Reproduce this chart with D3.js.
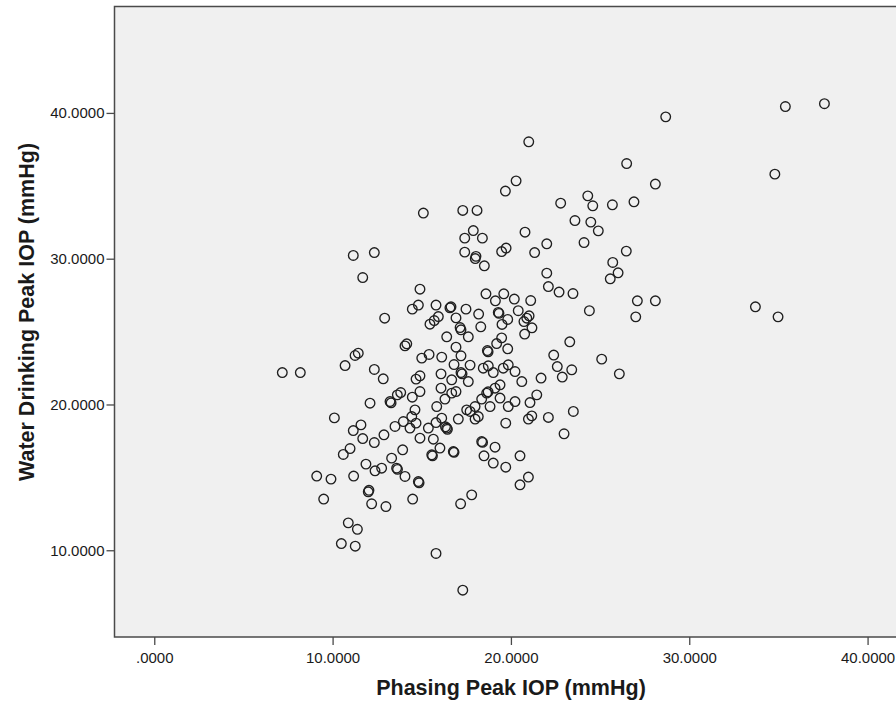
<!DOCTYPE html>
<html>
<head>
<meta charset="utf-8">
<script src="https://cdn.jsdelivr.net/npm/d3@7"></script>
<style>
	body { margin: 0; background: #fff; }
	.chart text { font-family: 'Liberation Sans', Arial, sans-serif; fill: #1a1a1a; }
</style>
</head>
<body>
<svg class="chart" width="896" height="726"></svg>
<script>
/** DATA **/
// Phasing Peak IOP (x) and Water Drinking Peak IOP (y), mmHg
let phasingPeak = [
	11.16, 12.34, 11.69, 11.44, 11.26, 19.69, 15.09, 17.30, 18.10, 17.89,
	17.41, 18.40, 20.79, 19.48, 19.73, 21.33, 17.41, 18.00, 18.04, 18.51,
	14.90, 12.92, 14.81, 14.47, 15.80, 16.58, 16.64, 17.48, 16.92, 15.93,
	15.70, 15.46, 17.15, 17.20, 16.40, 17.61, 18.19, 18.31, 18.60, 19.13,
	19.60, 20.19, 21.11, 19.29, 19.33, 19.82, 19.50, 20.41, 20.89, 21.02,
	20.73, 21.18, 20.77, 14.16, 14.06, 16.92, 19.48, 19.20, 19.82, 18.68,
	18.72, 15.41, 16.12, 17.20, 15.00, 7.18, 8.19, 10.70, 12.34, 12.10,
	10.10, 11.59, 11.16, 11.69, 12.34, 10.98, 10.60, 11.87, 12.38, 9.11,
	9.91, 11.18, 12.00, 12.04, 12.19, 9.50, 10.88, 11.39, 10.49, 11.27,
	15.80, 17.30, 12.84, 13.22, 13.28, 13.63, 13.82, 14.47, 14.68, 14.90,
	14.90, 16.08, 16.08, 16.68, 16.81, 17.20, 17.26, 17.61, 17.71, 16.68,
	16.92, 16.30, 15.84, 14.62, 14.44, 13.97, 14.68, 13.50, 14.34, 12.88,
	15.37, 16.12, 15.80, 16.40, 16.44, 16.33, 17.05, 17.52, 17.99, 17.71,
	18.17, 17.99, 14.90, 15.65, 16.02, 15.56, 15.60, 16.77, 16.81, 13.93,
	13.31, 12.75, 13.59, 13.64, 14.06, 14.81, 14.85, 14.49, 12.99, 17.18,
	17.80, 18.36, 18.41, 19.11, 18.49, 19.01, 19.71, 20.51, 20.98, 20.51,
	19.71, 18.64, 18.72, 18.36, 19.11, 19.39, 19.39, 18.83, 19.85, 20.23,
	21.07, 21.17, 20.98, 21.45, 20.61, 20.23, 19.85, 19.57, 19.01, 18.45,
	18.73, 21.69, 28.68, 35.39, 37.58, 26.49, 34.80, 28.10, 22.79, 24.31,
	24.59, 25.69, 26.90, 23.59, 24.48, 24.90, 22.01, 24.10, 26.47, 25.71,
	26.01, 25.57, 22.01, 22.10, 22.70, 23.48, 24.40, 27.09, 28.10, 27.00,
	33.71, 34.98, 23.30, 22.40, 25.09, 22.60, 23.41, 22.88, 26.08, 22.10,
	23.50, 22.98, 21.00, 20.29
];

let waterPeak = [
	30.22, 30.42, 28.71, 23.52, 23.36, 34.64, 33.13, 33.31, 33.31, 31.93,
	31.41, 31.41, 31.82, 30.49, 30.73, 30.42, 30.45, 30.01, 30.16, 29.51,
	27.91, 25.92, 26.82, 26.54, 26.82, 26.63, 26.70, 26.54, 25.94, 26.03,
	25.76, 25.51, 25.28, 25.12, 24.64, 24.64, 26.20, 25.33, 27.59, 27.11,
	27.59, 27.23, 27.13, 26.31, 26.25, 25.83, 25.49, 26.43, 25.92, 26.08,
	25.69, 25.26, 24.83, 24.16, 24.02, 23.93, 24.57, 24.18, 23.82, 23.70,
	23.61, 23.43, 23.25, 23.34, 23.18, 22.19, 22.19, 22.67, 22.40, 20.09,
	19.08, 18.60, 18.21, 17.66, 17.39, 16.98, 16.57, 15.91, 15.45, 15.09,
	14.88, 15.09, 14.01, 14.11, 13.19, 13.51, 11.88, 11.44, 10.46, 10.28,
	9.78, 7.26, 21.76, 20.20, 20.11, 20.66, 20.82, 20.50, 21.74, 21.97,
	20.89, 22.10, 21.12, 21.69, 22.74, 22.19, 22.10, 21.57, 22.70, 20.78,
	20.89, 20.37, 19.86, 19.63, 19.17, 18.83, 18.72, 18.49, 18.38, 17.92,
	18.38, 19.06, 18.76, 18.38, 18.30, 18.47, 19.00, 19.63, 19.86, 19.52,
	19.17, 19.00, 17.69, 17.62, 17.01, 16.55, 16.48, 16.77, 16.72, 16.89,
	16.32, 15.63, 15.63, 15.55, 15.06, 14.71, 14.63, 13.51, 13.00, 13.19,
	13.80, 17.46, 17.40, 17.07, 16.48, 15.98, 15.70, 16.48, 15.02, 14.49,
	18.72, 20.78, 20.87, 20.37, 21.12, 21.35, 20.44, 19.86, 19.86, 20.20,
	20.13, 19.22, 19.00, 20.66, 21.57, 22.26, 22.72, 22.49, 22.19, 22.49,
	22.65, 21.81, 39.73, 40.44, 40.63, 36.53, 35.80, 35.12, 33.81, 34.31,
	33.63, 33.70, 33.90, 32.62, 32.51, 31.91, 31.02, 31.11, 30.52, 29.74,
	29.03, 28.62, 29.01, 28.09, 27.71, 27.61, 26.43, 27.11, 27.11, 26.01,
	26.70, 26.01, 24.30, 23.39, 23.11, 22.60, 22.38, 21.88, 22.10, 19.11,
	19.52, 17.99, 38.02, 35.34
];

let xTicks = [0, 10, 20, 30, 40];
let yTicks = [10, 20, 30, 40];
let xTitle = 'Phasing Peak IOP (mmHg)';
let yTitle = 'Water Drinking Peak IOP (mmHg)';

/** CONSTANTS **/
let margin = {
	top: 6.5,
	right: -1,
	bottom: 89,
	left: 114.5
};

let constant = {
	width: 896 - margin.left - margin.right,
	height: 726 - margin.top - margin.bottom
};
constant.x = d3.scaleLinear().domain([-2.23, 41.65]).range([0, constant.width]);
constant.y = d3.scaleLinear().domain([4.05, 47.3]).range([constant.height, 0]);

// SPSS style labels: 0 shows as .0000
function tickText(d) {
	return d === 0 ? '.0000' : d.toFixed(4);
}

function createChart() {
	let svg = d3.select('.chart');
	let g = svg.append('g').attr('transform', 'translate(' + margin.left + ',' + margin.top + ')');

	createFrame(g);
	createScale(g);
	createPoints(g);
	createTitles(svg);
}

// gray plot background with dark border
function createFrame(g) {
	g.append('rect')
		.attr('class', 'frame')
		.attr('width', constant.width)
		.attr('height', constant.height)
		.style('fill', '#f0f0f0')
		.style('stroke', '#4a4a4a')
		.style('stroke-width', 1.5);
}

function createScale(g) {
	// x axis
	let xAxis = g.append('g')
		.attr('class', 'x-axis')
		.attr('transform', 'translate(0,' + constant.height + ')')
		.call(d3.axisBottom(constant.x).tickValues(xTicks).tickFormat(tickText).tickSize(8).tickSizeOuter(0));
	xAxis.select('.domain').remove();
	xAxis.selectAll('line').style('stroke', '#4a4a4a').style('stroke-width', 1.3);
	xAxis.selectAll('text')
		.attr('y', 15)
		.style('font-size', '15px');

	// y axis
	let yAxis = g.append('g')
		.attr('class', 'y-axis')
		.call(d3.axisLeft(constant.y).tickValues(yTicks).tickFormat(tickText).tickSize(8).tickSizeOuter(0));
	yAxis.select('.domain').remove();
	yAxis.selectAll('line').style('stroke', '#4a4a4a').style('stroke-width', 1.3);
	yAxis.selectAll('text')
		.attr('x', -10)
		.style('font-size', '15px');
}

// open circle markers
function createPoints(g) {
	g.selectAll('.dot')
		.data(phasingPeak)
		.enter()
		.append('circle')
		.attr('class', 'dot')
		.attr('cx', function(d) { return constant.x(d); })
		.attr('cy', function(d, i) { return constant.y(waterPeak[i]); })
		.attr('r', 4.8)
		.style('fill', 'none')
		.style('stroke', '#1f1f1f')
		.style('stroke-width', 1.35);
}

function createTitles(svg) {
	svg.append('text')
		.attr('class', 'x-title')
		.attr('x', 511)
		.attr('y', 695)
		.attr('text-anchor', 'middle')
		.style('font-size', '21.5px')
		.style('font-weight', 'bold')
		.text(xTitle);

	svg.append('text')
		.attr('class', 'y-title')
		.attr('transform', 'translate(34,' + 312 + ') rotate(-90)')
		.attr('text-anchor', 'middle')
		.style('font-size', '21.5px')
		.style('font-weight', 'bold')
		.text(yTitle);
}

createChart();
</script>
</body>
</html>
